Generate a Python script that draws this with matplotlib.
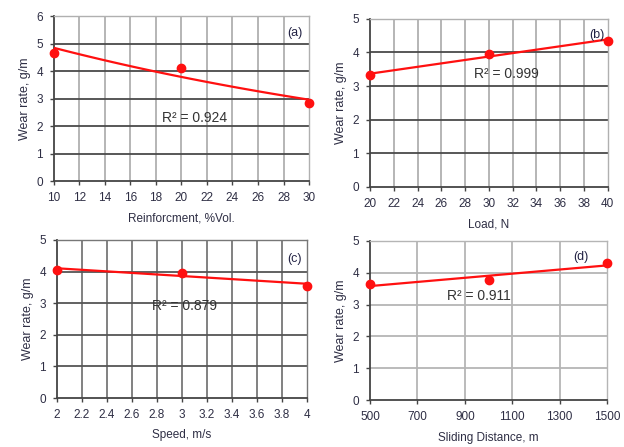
import matplotlib.pyplot as plt
import numpy as np

plt.rcParams['font.family'] = ['Liberation Sans', 'DejaVu Sans']

# panel data
reinf = [10, 20, 30]
wear_reinf = [4.65, 4.11, 2.84]
load = [20, 30, 40]
wear_load = [3.33, 3.95, 4.35]
speed = [2, 3, 4]
wear_speed = [4.05, 3.97, 3.56]
dist = [500, 1000, 1500]
wear_dist = [3.65, 3.77, 4.30]

r2_labels = ['R² = 0.924', 'R² = 0.999', 'R² = 0.879', 'R² = 0.911']
panel_tags = ['(a)', '(b)', '(c)', '(d)']
xlabels = ['Reinforcment, %Vol.', 'Load, N', 'Speed, m/s', 'Sliding Distance, m']

fig = plt.figure(figsize=(6.24, 4.47), dpi=100)

specs = [
    # rect, x, y, xticks, ymax, fit, hgrid, vgrid, tag pos, r2 pos
    ([0.0865, 0.595, 0.4087, 0.369], reinf, wear_reinf, np.arange(10, 31, 2), 6, 'exp',
     '#4a4a4a', '#b0b0b0', (28.9, 5.38), (21.0, 2.29)),
    ([0.593, 0.582, 0.381, 0.376], load, wear_load, np.arange(20, 41, 2), 5, 'lin',
     '#4a4a4a', '#b0b0b0', (39.1, 4.52), (31.5, 3.36)),
    ([0.0913, 0.1096, 0.4006, 0.3535], speed, wear_speed, np.arange(2, 4.01, 0.2), 5, 'lin',
     '#555555', '#777777', (3.9, 4.4), (3.02, 2.91)),
    ([0.593, 0.105, 0.380, 0.356], dist, wear_dist, np.arange(500, 1501, 200), 5, 'lin',
     '#b5b5b5', '#b5b5b5', (1390, 4.5), (960, 3.27)),
]

for i, (rect, xs, ys, xt, ymax, fit, hcol, vcol, tagpos, r2pos) in enumerate(specs):
    ax = fig.add_axes(rect)
    xs = np.array(xs, dtype=float)
    ys = np.array(ys, dtype=float)
    xx = np.linspace(xs[0], xs[-1], 100)
    if fit == 'exp':
        b, a = np.polyfit(xs, np.log(ys), 1)
        yy = np.exp(a + b * xx)
    else:
        m, c = np.polyfit(xs, ys, 1)
        yy = m * xx + c
    ax.plot(xx, yy, color='#ff1010', lw=1.6, zorder=3)
    ax.plot(xs, ys, 'o', color='#ff1010', ms=6, zorder=4, clip_on=False)

    ax.set_xlim(xt[0], xt[-1])
    ax.set_ylim(0, ymax)
    ax.set_xticks(xt)
    if i == 2:
        ax.set_xticklabels(['%g' % v for v in xt])
    ax.set_yticks(range(0, ymax + 1))
    for v in xt[1:-1]:
        ax.axvline(v, color=vcol, lw=1.3, zorder=1)
    for v in range(1, ymax + 1):
        ax.axhline(v, color=hcol, lw=1.3, zorder=1)

    for s in ['top', 'right']:
        ax.spines[s].set_color(vcol)
        ax.spines[s].set_linewidth(1.0)
    for s in ['left', 'bottom']:
        ax.spines[s].set_color('#444444')
        ax.spines[s].set_linewidth(1.3)
    ax.tick_params(direction='out', length=3, width=1, color='#444444',
                   labelsize=8.5, labelcolor='#2e2e44', pad=5)

    ax.set_ylabel('Wear rate, g/m', fontsize=9, color='#2e2e44', labelpad=4)
    ax.set_xlabel(xlabels[i], fontsize=8.5, color='#2e2e44', labelpad=6)
    ax.text(tagpos[0], tagpos[1], panel_tags[i], ha='center', va='center',
            fontsize=9, color='#222244', zorder=5)
    ax.text(r2pos[0], r2pos[1], r2_labels[i], ha='center', va='center',
            fontsize=10, color='#333333', zorder=5)

fig.savefig('out.png', dpi=100)
